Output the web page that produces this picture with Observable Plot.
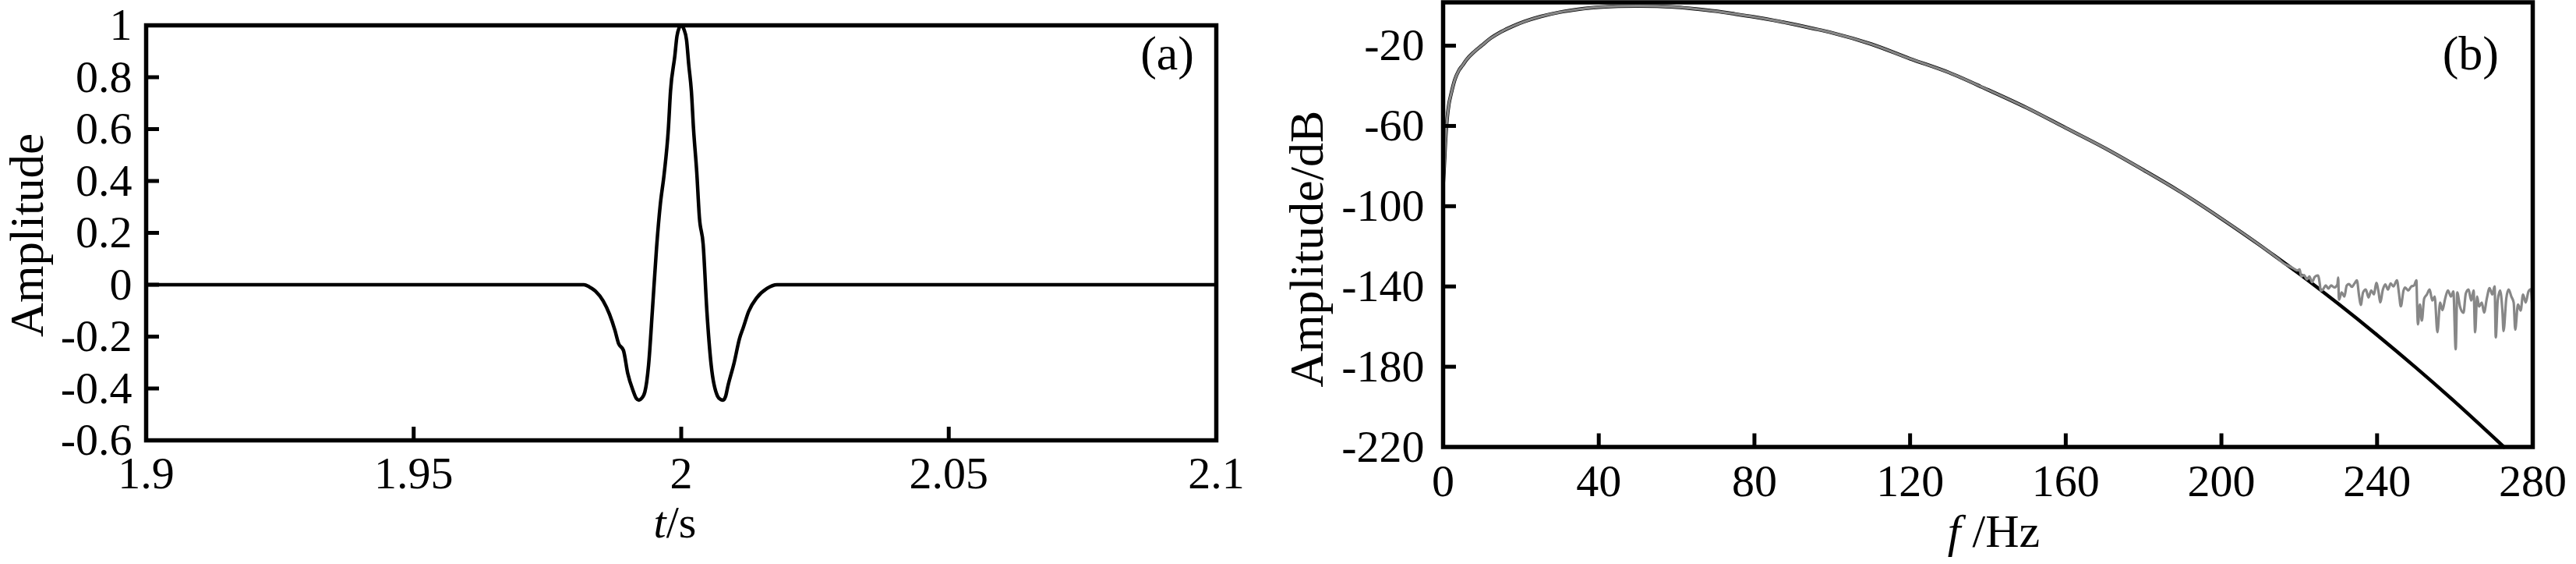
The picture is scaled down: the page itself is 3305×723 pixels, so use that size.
<!DOCTYPE html>
<html><head><meta charset="utf-8">
<script src="https://cdn.jsdelivr.net/npm/d3@7"></script>
<script src="https://cdn.jsdelivr.net/npm/@observablehq/plot@0.6"></script>
<style>
html,body{margin:0;padding:0;background:#fff;}
#wrap{position:relative;width:3305px;height:723px;overflow:hidden;background:#fff;}
#wrap svg{position:absolute;top:0;}
</style></head><body><div id="wrap"></div>
<script>
// ---------- Panel (a): wavelet ----------
const waveT = [1.9, 1.9818, 1.9828, 1.9840, 1.9854, 1.9866, 1.9876, 1.9883, 1.9892, 1.9900, 1.9910, 1.9916, 1.9921, 1.9926, 1.9932, 1.9939, 1.9946, 1.9954, 1.9961, 1.9968, 1.9976, 1.9980, 1.9988, 1.9992, 1.9996, 2.0000, 2.0005, 2.0010, 2.0014, 2.0019, 2.0023, 2.0029, 2.0034, 2.0041, 2.0048, 2.0056, 2.0068, 2.0074, 2.0078, 2.0083, 2.0087, 2.0099, 2.0109, 2.0116, 2.0126, 2.0141, 2.0160, 2.0179, 2.1];
const waveA = [0, 0, -0.008, -0.025, -0.062, -0.114, -0.175, -0.227, -0.253, -0.341, -0.408, -0.438, -0.445, -0.438, -0.414, -0.310, -0.103, 0.145, 0.311, 0.425, 0.601, 0.746, 0.881, 0.958, 0.99, 1.0, 0.985, 0.943, 0.85, 0.746, 0.601, 0.435, 0.259, 0.156, -0.103, -0.31, -0.43, -0.443, -0.445, -0.43, -0.393, -0.30, -0.207, -0.165, -0.103, -0.051, -0.015, 0, 0];
const aXDomain = [1.9, 2.1];
const aYDomain = [-0.6, 1];
const aXLabels = [1.9, 1.95, 2, 2.05, 2.1];
const aYLabels = [1, 0.8, 0.6, 0.4, 0.2, 0, -0.2, -0.4, -0.6];
const aXTicks = [1.95, 2, 2.05];
const aYTicks = [0.8, 0.6, 0.4, 0.2, 0, -0.2, -0.4];

// ---------- Panel (b): amplitude spectra ----------
const specF = [0, 0.3, 0.6, 1, 1.5, 2, 3, 4, 5, 6, 8, 10, 12, 15, 18, 21, 25, 30, 35, 40, 45, 50, 55, 60, 65, 70, 75, 80, 85, 90, 95, 100, 110, 120, 130, 140, 150, 160, 170, 180, 190, 200, 210, 212, 220, 230, 240, 250, 260, 270, 272.6];
const specBlack = [-90, -80, -68, -57, -49, -44.5, -37, -32.5, -29.8, -27, -23, -19.8, -16.6, -13, -10.2, -7.9, -5.5, -3.3, -1.8, -0.8, -0.3, -0.2, -0.3, -0.8, -1.7, -2.8, -4.2, -5.7, -7.4, -9.3, -11.4, -13.6, -19.2, -26.5, -33.4, -42, -51, -61, -71, -82, -93.5, -106.2, -119.6, -122.4, -133.7, -148.6, -164.2, -180.5, -197.5, -215.3, -220];
// noisy spectrum beyond ~212 Hz (grey curve)
const noiseF = [213, 214.5, 216, 217.5, 218.5, 219.5, 220.1, 220.5, 221.2, 222, 222.6, 223.3, 224, 224.8, 225.3, 225.5, 226.1, 226.8, 227.5, 228.2, 229, 229.8, 230.0, 230.2, 230.9, 231.6, 232.2, 232.8, 233.5, 234.2, 234.8, 235.4, 235.8, 236.4, 237.1, 237.8, 238.5, 239.2, 239.8, 240.4, 240.8, 241.5, 242.1, 242.8, 243.5, 244.2, 245.1, 245.6, 246.1, 246.8, 247.2, 248, 248.8, 249.5, 250.1, 250.3, 250.5, 251, 251.5, 252.1, 252.8, 253.5, 254.2, 254.8, 255.5, 256.2, 256.8, 257.5, 258.2, 259, 259.6, 260.2, 260.6, 261.3, 262.2, 262.8, 263.5, 264.2, 264.8, 265.2, 265.7, 266.2, 266.9, 267.5, 268.2, 268.9, 269.6, 270.2, 270.5, 271, 271.6, 272.2, 272.5, 273.2, 273.8, 274.5, 275.1, 275.5, 276.2, 276.9, 277.5, 278.2, 278.9, 279.5, 280];
const noiseGray = [-123.8, -126, -128.5, -130, -131, -132, -131.5, -135, -134.3, -136.5, -135, -137.8, -135.2, -134.5, -139, -142.1, -141.5, -139.5, -141, -139.5, -140.5, -139, -135.6, -146.6, -143, -145, -139.5, -138.8, -140.2, -138.5, -136.9, -145, -149.2, -143, -141.5, -145.5, -142, -144, -138.2, -143, -147.9, -141.5, -139, -141.5, -138.5, -140, -136.9, -143, -149.9, -142, -140.5, -142, -140, -139.5, -136.9, -150, -158.9, -149, -157, -146, -144, -141.5, -147, -145, -162.8, -148, -151.8, -146, -142, -145, -142.5, -171.3, -143, -150, -153.1, -143.5, -141.5, -147, -142, -162.8, -145, -150, -148, -153, -146, -140.8, -144, -140, -165.4, -147, -142, -152, -162.2, -146, -141.5, -145, -148, -161.5, -149, -152, -144, -148, -142.5, -141.4, -155.7];
const bXDomain = [0, 280];
const bYDomain = [-220, 1.6];
const bXLabels = [0, 40, 80, 120, 160, 200, 240, 280];
const bYLabels = [-20, -60, -100, -140, -180, -220];
const bXTicks = [40, 80, 120, 160, 200, 240];
const bYTicks = [-20, -60, -100, -140, -180];

// ---------- layout ----------
const H = 723;
const FONT = "'Liberation Serif','Times New Roman',serif";
const A = {left: 0, width: 1650, x0: 187, x1: 1560, y0: 32, y1: 564};
const B = {left: 1650, width: 1655, x0: 1851, x1: 3249, y0: 2.5, y1: 572.5};
const fmt = d => String(d);
const TICK = 17;

function margins(P) {
  return {
    width: P.width, height: H,
    marginLeft: P.x0 - P.left, marginRight: P.left + P.width - P.x1,
    marginTop: P.y0, marginBottom: H - P.y1
  };
}

const wave = waveT.map((t, i) => ({t, a: waveA[i]}));
const black = specF.map((f, i) => ({f, v: specBlack[i]}));
const gray = black.filter(d => d.f <= 212)
  .concat(noiseF.map((f, i) => ({f, v: noiseGray[i]})));

const chartA = Plot.plot({
  ...margins(A),
  x: {domain: aXDomain, label: null},
  y: {domain: aYDomain, label: null},
  style: {fontFamily: FONT, background: "transparent", overflow: "visible", color: "black"},
  marks: [
    Plot.line(wave, {x: "t", y: "a", stroke: "black", strokeWidth: 4.5, curve: "monotone-x"}),
    Plot.tickX(aXTicks, {x: d => d, stroke: "black", strokeWidth: 5, insetTop: (A.y1 - A.y0) - TICK}),
    Plot.tickY(aYTicks, {y: d => d, stroke: "black", strokeWidth: 5, insetRight: (A.x1 - A.x0) - TICK}),
    Plot.frame({stroke: "black", strokeWidth: 5.5}),
    Plot.axisX(aXLabels, {tickSize: 0, tickPadding: 20, fontSize: 58, tickFormat: fmt, label: null}),
    Plot.axisY(aYLabels, {tickSize: 0, tickPadding: 18, fontSize: 58, tickFormat: fmt, label: null})
  ]
});

const chartB = Plot.plot({
  ...margins(B),
  x: {domain: bXDomain, label: null},
  y: {domain: bYDomain, label: null},
  style: {fontFamily: FONT, background: "transparent", overflow: "visible", color: "black"},
  marks: [
    Plot.line(black, {x: "f", y: "v", stroke: "black", strokeWidth: 4.5, curve: "monotone-x"}),
    Plot.line(gray, {x: "f", y: "v", stroke: "#878787", strokeWidth: 3.2, curve: "monotone-x"}),
    Plot.tickX(bXTicks, {x: d => d, stroke: "black", strokeWidth: 5, insetTop: (B.y1 - B.y0) - TICK}),
    Plot.tickY(bYTicks, {y: d => d, stroke: "black", strokeWidth: 5, insetRight: (B.x1 - B.x0) - TICK}),
    Plot.frame({stroke: "black", strokeWidth: 5.5}),
    Plot.axisX(bXLabels, {tickSize: 0, tickPadding: 22, fontSize: 58, tickFormat: fmt, label: null}),
    Plot.axisY(bYLabels, {tickSize: 0, tickPadding: 24, fontSize: 58, tickFormat: fmt, label: null})
  ]
});

const wrap = document.getElementById("wrap");
chartA.style.left = A.left + "px";
chartB.style.left = B.left + "px";
wrap.appendChild(chartA);
wrap.appendChild(chartB);

// ---------- titles and panel tags ----------
const NS = "http://www.w3.org/2000/svg";
const ov = document.createElementNS(NS, "svg");
ov.setAttribute("width", 3305); ov.setAttribute("height", H);
ov.style.left = "0px"; ov.style.pointerEvents = "none";
ov.setAttribute("font-family", FONT);
wrap.appendChild(ov);
function txt(parts, attrs) {
  const t = document.createElementNS(NS, "text");
  for (const k in attrs) t.setAttribute(k, attrs[k]);
  for (const p of parts) {
    const s = document.createElementNS(NS, "tspan");
    if (p.italic) s.setAttribute("font-style", "italic");
    s.textContent = p.s;
    t.appendChild(s);
  }
  ov.appendChild(t);
}
txt([{s: "Amplitude"}], {transform: "translate(55,301.5) rotate(-90)", "text-anchor": "middle", "font-size": 61});
txt([{s: "Amplitude/dB"}], {transform: "translate(1697,319) rotate(-90)", "text-anchor": "middle", "font-size": 62});
txt([{s: "t", italic: true}, {s: "/s"}], {x: 866, y: 689, "text-anchor": "middle", "font-size": 58});
txt([{s: "f", italic: true}, {s: " /Hz"}], {x: 2558, y: 701, "text-anchor": "middle", "font-size": 60});
txt([{s: "(a)"}], {x: 1532, y: 89, "text-anchor": "end", "font-size": 62});
txt([{s: "(b)"}], {x: 3206, y: 89, "text-anchor": "end", "font-size": 62});
</script>
</body></html>
